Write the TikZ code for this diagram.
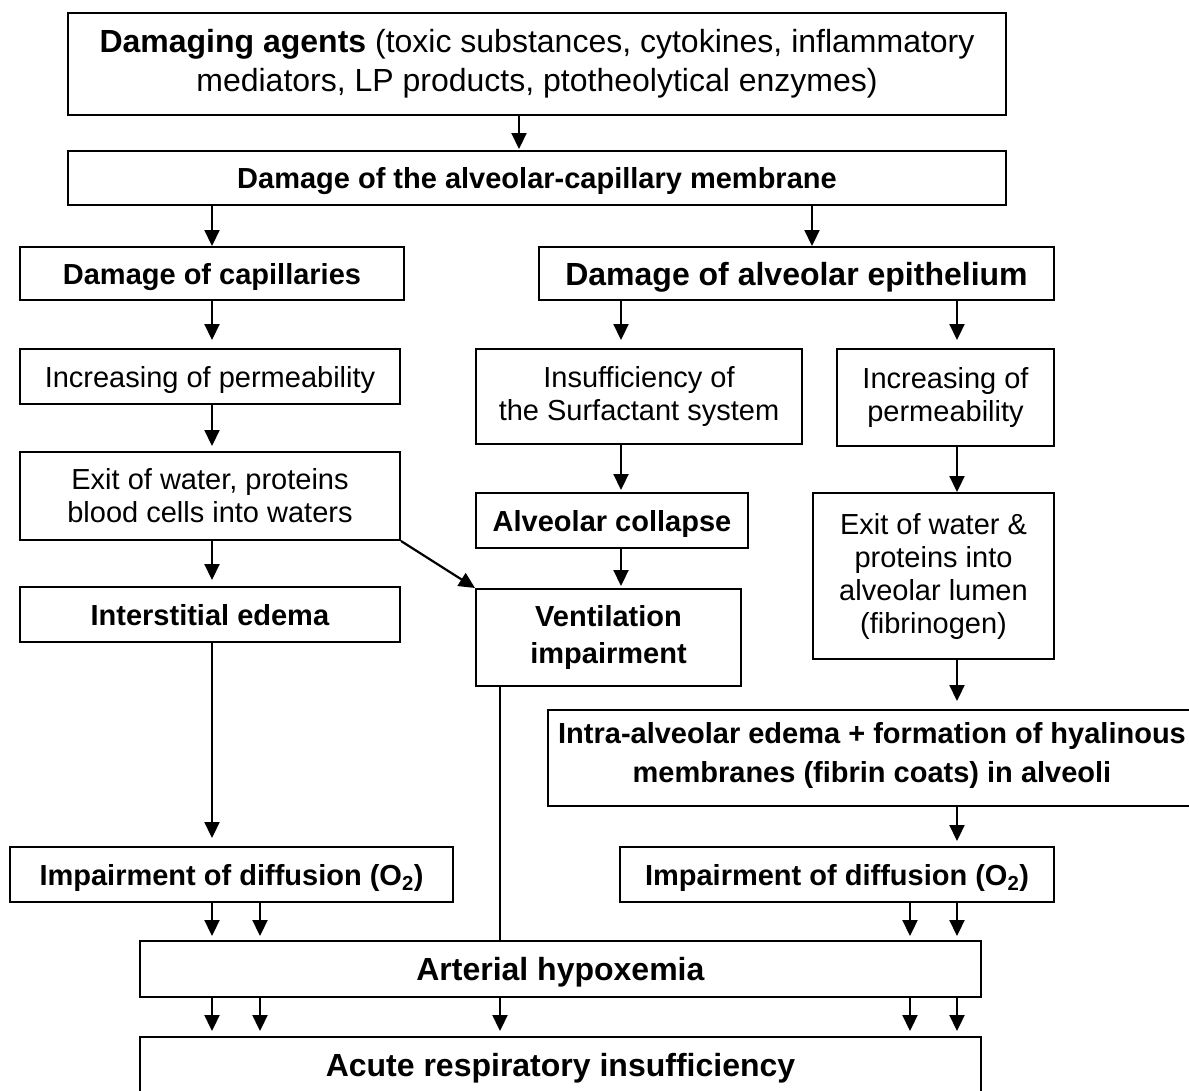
\documentclass[tikz,border=0pt]{standalone}
\usepackage{fontspec}
\setmainfont{Liberation Sans}
\usetikzlibrary{arrows.meta}
\newcommand\fsnormal{\fontsize{29}{33}\selectfont}
\newcommand\fslarge{\fontsize{32}{39}\selectfont}
\begin{document}
\begin{tikzpicture}[x=1pt,y=-1pt,
  box/.style={draw, line width=2pt, inner sep=0pt, align=center, font=\fsnormal},
  big/.style={font=\fslarge},
  oneline/.style={text depth=0pt},
  arr/.style={line width=2.2pt, -{Triangle[width=15pt,length=16pt]}},
  link/.style={line width=2.2pt}]
\useasboundingbox (0,0) rectangle (1189,1090);
\clip (0,0) rectangle (1189,1090);
\fill[white] (0,0) rectangle (1189,1090);

% columns used by the vertical connectors
\coordinate (xA) at (212,0);
\coordinate (xB) at (260,0);
\coordinate (xC) at (500,0);
\coordinate (xD) at (621,0);
\coordinate (xE) at (812,0);
\coordinate (xF) at (910,0);
\coordinate (xG) at (957,0);
\coordinate (xH) at (519,0);

% boxes
\node[box, big, minimum width=938pt, minimum height=102pt] (agents) at (537,64)
  {\textbf{Damaging agents} (toxic substances, cytokines, inflammatory\\mediators, LP products, ptotheolytical enzymes)};
\node[box, oneline, minimum width=938pt, minimum height=54pt] (acm) at (537,178)
  {\textbf{Damage of the alveolar-capillary membrane}};
\node[box, oneline, minimum width=384pt, minimum height=53pt] (cap) at (212,273.5)
  {\textbf{Damage of capillaries}};
\node[box, big, oneline, minimum width=515pt, minimum height=53pt] (epi) at (796.5,273.5)
  {\textbf{Damage of alveolar epithelium}};
\node[box, oneline, minimum width=380pt, minimum height=55pt] (inc1) at (210,376.5)
  {Increasing of permeability};
\node[box, minimum width=326pt, minimum height=95pt] (insuf) at (639,396.5)
  {Insufficiency of\\the Surfactant system};
\node[box, minimum width=217pt, minimum height=97pt] (inc2) at (945.5,397.5)
  {Increasing of\\permeability};
\node[box, minimum width=380pt, minimum height=88pt] (exit1) at (210,496)
  {Exit of water, proteins\\blood cells into waters};
\node[box, oneline, minimum width=272pt, minimum height=55pt] (collapse) at (612,520.5)
  {\textbf{Alveolar collapse}};
\node[box, minimum width=241pt, minimum height=166pt] (exit2) at (933.5,576)
  {Exit of water \&\\proteins into\\alveolar lumen\\(fibrinogen)};
\node[box, oneline, minimum width=380pt, minimum height=55pt] (inter) at (210,614.5)
  {\textbf{Interstitial edema}};
\node[box, font=\fontsize{29}{37}\selectfont,
      minimum width=265pt, minimum height=97pt] (vent) at (608.5,637.5)
  {\textbf{Ventilation}\\\textbf{impairment}};
\node[box, font=\fontsize{29}{39}\selectfont, text depth=11pt,
      minimum width=648pt, minimum height=96pt] (intra) at (872,758)
  {\textbf{Intra-alveolar edema + formation of hyalinous}\\\textbf{membranes (fibrin coats) in alveoli}};
\node[box, oneline, minimum width=443pt, minimum height=55pt] (diff1) at (231.5,874.5)
  {\textbf{Impairment of diffusion (O\textsubscript{2})}};
\node[box, oneline, minimum width=434pt, minimum height=55pt] (diff2) at (837,874.5)
  {\textbf{Impairment of diffusion (O\textsubscript{2})}};
\node[box, big, oneline, minimum width=841pt, minimum height=56pt] (art) at (560.5,969)
  {\textbf{Arterial hypoxemia}};
\node[box, big, oneline, minimum width=841pt, minimum height=56pt] (acute) at (560.5,1065)
  {\textbf{Acute respiratory insufficiency}};

% connectors
\draw[arr, shorten >=1pt] (agents.south -| xH) -- (acm.north -| xH);
\draw[arr] (acm.south -| xA) -- (cap.north -| xA);
\draw[arr] (acm.south -| xE) -- (epi.north -| xE);
\draw[arr, shorten >=8pt] (cap.south -| xA) -- (inc1.north -| xA);
\draw[arr, shorten >=5pt] (inc1.south -| xA) -- (exit1.north -| xA);
\draw[arr, shorten >=6pt] (exit1.south -| xA) -- (inter.north -| xA);
\draw[arr] (exit1.south east) -- (vent.north west);
\draw[arr, shorten >=8pt] (epi.south -| xD) -- (insuf.north -| xD);
\draw[arr, shorten >=8pt] (epi.south -| xG) -- (inc2.north -| xG);
\draw[arr, shorten >=2pt] (insuf.south -| xD) -- (collapse.north -| xD);
\draw[arr, shorten >=2pt] (collapse.south -| xD) -- (vent.north -| xD);
\draw[arr] (inc2.south -| xG) -- (exit2.north -| xG);
\draw[arr, shorten >=8pt] (exit2.south -| xG) -- (intra.north -| xG);
\draw[arr, shorten >=8pt] (inter.south -| xA) -- (diff1.north -| xA);
\draw[link] (vent.south -| xC) -- (art.north -| xC);
\draw[arr, shorten >=5pt] (intra.south -| xG) -- (diff2.north -| xG);
\draw[arr, shorten >=4pt] (diff1.south -| xA) -- (art.north -| xA);
\draw[arr, shorten >=4pt] (diff1.south -| xB) -- (art.north -| xB);
\draw[arr, shorten >=4pt] (diff2.south -| xF) -- (art.north -| xF);
\draw[arr, shorten >=4pt] (diff2.south -| xG) -- (art.north -| xG);
\draw[arr, shorten >=5pt] (art.south -| xA) -- (acute.north -| xA);
\draw[arr, shorten >=5pt] (art.south -| xB) -- (acute.north -| xB);
\draw[arr, shorten >=5pt] (art.south -| xC) -- (acute.north -| xC);
\draw[arr, shorten >=5pt] (art.south -| xF) -- (acute.north -| xF);
\draw[arr, shorten >=5pt] (art.south -| xG) -- (acute.north -| xG);
\end{tikzpicture}
\end{document}
